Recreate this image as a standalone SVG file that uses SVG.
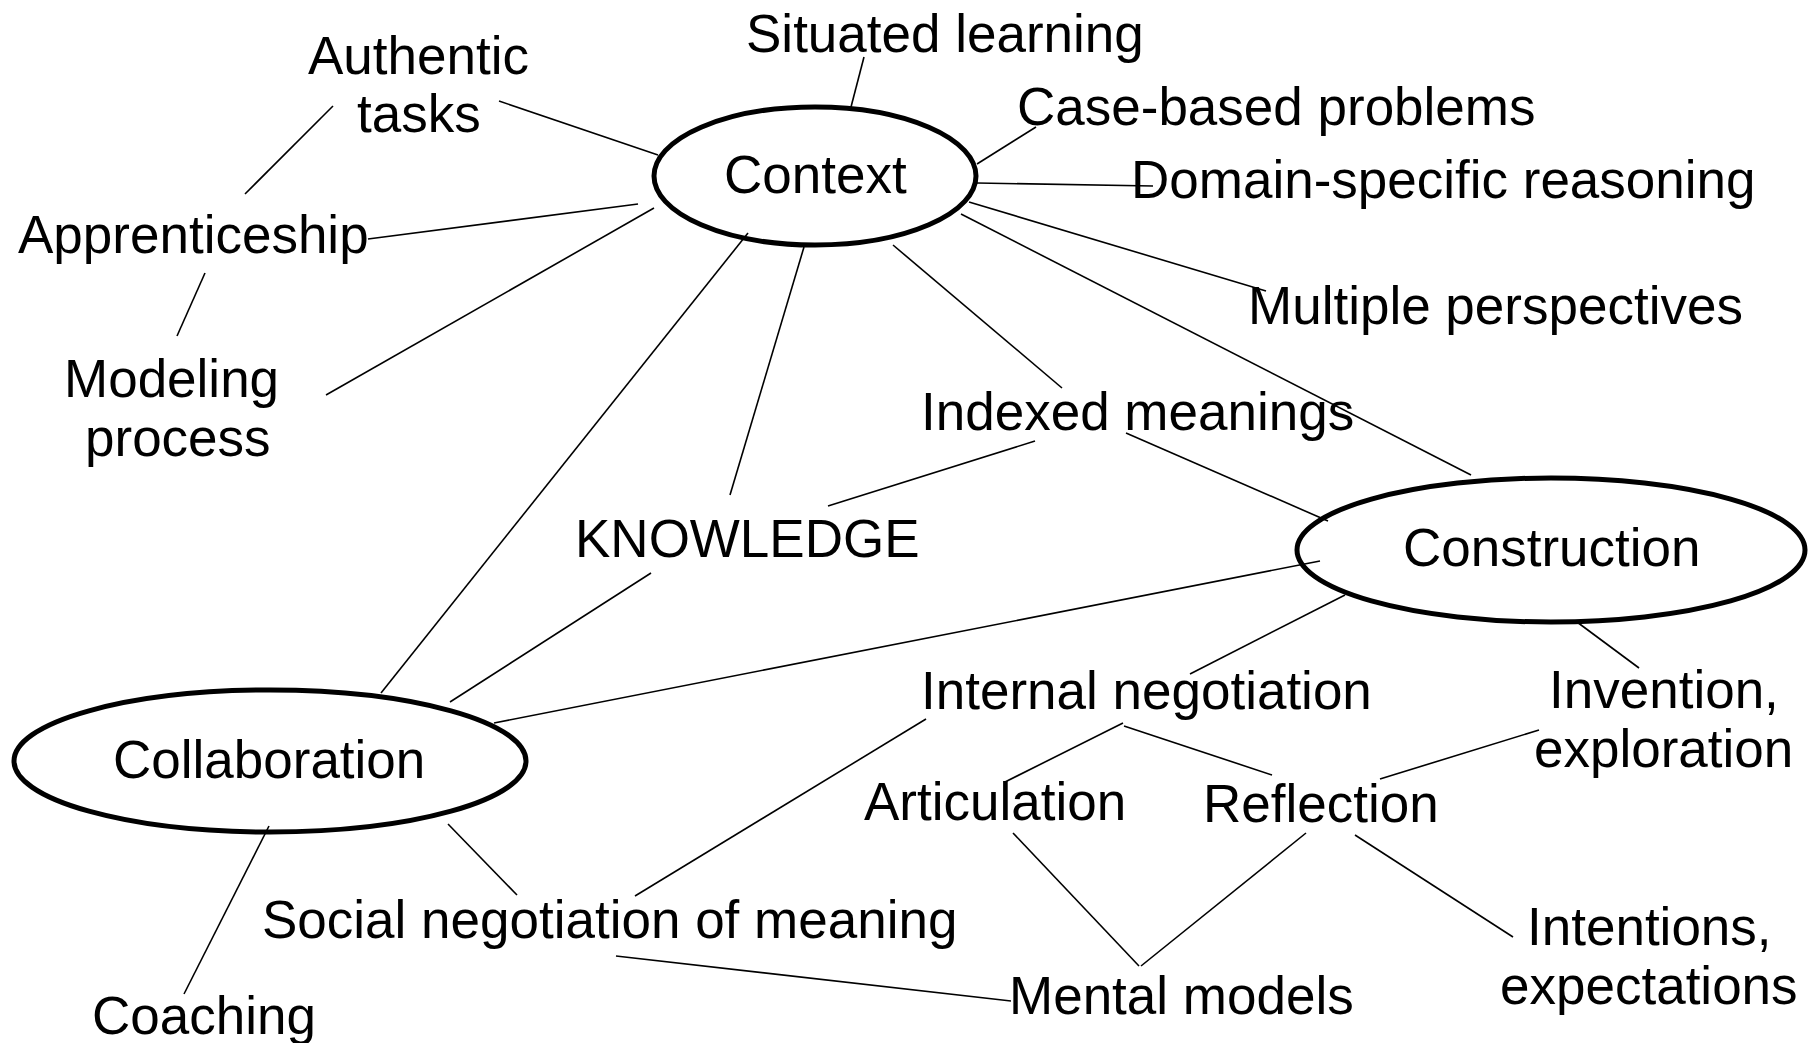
<svg xmlns="http://www.w3.org/2000/svg" width="1810" height="1043" viewBox="0 0 1810 1043">
<style>
.bg{fill:#fff}
text{font-family:"Liberation Sans",Arial,sans-serif;font-size:53px;fill:#000}
.node ellipse{fill:none;stroke:#000;stroke-width:5}
#connectors line{stroke:#000;stroke-width:1.6}
</style>
<rect class="bg" x="0" y="0" width="1810" height="1043"/>
<g id="connectors">
<line x1="333" y1="106" x2="245" y2="194"/>
<line x1="499" y1="101" x2="658" y2="155"/>
<line x1="368" y1="239" x2="638" y2="204"/>
<line x1="205" y1="273" x2="177" y2="336"/>
<line x1="326" y1="395" x2="654" y2="208"/>
<line x1="864" y1="57" x2="851" y2="107"/>
<line x1="1036" y1="127" x2="977" y2="164"/>
<line x1="977" y1="183" x2="1153" y2="186"/>
<line x1="969" y1="202" x2="1266" y2="291"/>
<line x1="961" y1="214" x2="1471" y2="475"/>
<line x1="893" y1="245" x2="1062" y2="388"/>
<line x1="804" y1="247" x2="730" y2="495"/>
<line x1="748" y1="233" x2="381" y2="693"/>
<line x1="1035" y1="441" x2="828" y2="506"/>
<line x1="1126" y1="433" x2="1328" y2="521"/>
<line x1="651" y1="573" x2="450" y2="702"/>
<line x1="494" y1="723" x2="1320" y2="561"/>
<line x1="269" y1="826" x2="184" y2="994"/>
<line x1="448" y1="824" x2="517" y2="895"/>
<line x1="635" y1="896" x2="926" y2="719"/>
<line x1="616" y1="956" x2="1011" y2="1001"/>
<line x1="1345" y1="595" x2="1190" y2="674"/>
<line x1="1577" y1="622" x2="1639" y2="668"/>
<line x1="1123" y1="723" x2="1005" y2="782"/>
<line x1="1124" y1="726" x2="1272" y2="775"/>
<line x1="1539" y1="730" x2="1380" y2="779"/>
<line x1="1013" y1="833" x2="1139" y2="966"/>
<line x1="1306" y1="833" x2="1141" y2="966"/>
<line x1="1355" y1="835" x2="1513" y2="937"/>
</g>
<g id="context" class="node"><ellipse cx="815" cy="176" rx="161" ry="69"/><text x="724" y="193">Context</text></g>
<g id="collaboration" class="node"><ellipse cx="270" cy="761" rx="256" ry="71"/><text x="113" y="778">Collaboration</text></g>
<g id="construction" class="node"><ellipse cx="1551" cy="550" rx="254" ry="72"/><text x="1403" y="566">Construction</text></g>
<g id="authentic-tasks" class="node"><text x="308" y="74">Authentic</text><text x="357" y="132">tasks</text></g>
<g id="situated-learning" class="node"><text x="746" y="52">Situated learning</text></g>
<g id="case-based" class="node"><text x="1017" y="125">Case-based problems</text></g>
<g id="domain-specific" class="node"><text x="1131" y="198">Domain-specific reasoning</text></g>
<g id="apprenticeship" class="node"><text x="18" y="253">Apprenticeship</text></g>
<g id="multiple-perspectives" class="node"><text x="1248" y="324">Multiple perspectives</text></g>
<g id="modeling-process" class="node"><text x="64" y="397">Modeling</text><text x="85" y="456">process</text></g>
<g id="indexed-meanings" class="node"><text x="921" y="430">Indexed meanings</text></g>
<g id="knowledge" class="node"><text x="575" y="557">KNOWLEDGE</text></g>
<g id="internal-negotiation" class="node"><text x="921" y="709">Internal negotiation</text></g>
<g id="invention" class="node"><text x="1549" y="708">Invention,</text><text x="1534" y="767">exploration</text></g>
<g id="articulation" class="node"><text x="864" y="820">Articulation</text></g>
<g id="reflection" class="node"><text x="1203" y="822">Reflection</text></g>
<g id="social-negotiation" class="node"><text x="262" y="938">Social negotiation of meaning</text></g>
<g id="intentions" class="node"><text x="1527" y="945">Intentions,</text><text x="1500" y="1004">expectations</text></g>
<g id="coaching" class="node"><text x="92" y="1034">Coaching</text></g>
<g id="mental-models" class="node"><text x="1009" y="1014">Mental models</text></g>
</svg>
